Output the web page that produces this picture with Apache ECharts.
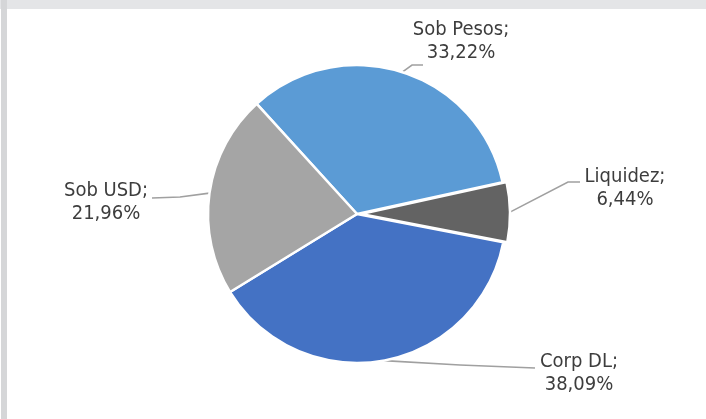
<!DOCTYPE html>
<html>
<head>
<meta charset="utf-8">
<script src="https://cdn.jsdelivr.net/npm/echarts@6/dist/echarts.min.js"></script>
<style>
  html, body { margin: 0; padding: 0; background: #ffffff; }
  #chart { width: 706px; height: 419px; }
</style>
</head>
<body>
<div id="chart"></div>
<script>
// ---- data ----
const categories = ['Sob Pesos', 'Liquidez', 'Corp DL', 'Sob USD'];
const values = [33.22, 6.44, 38.09, 21.96];
const colors = ['#5B9BD5', '#636363', '#4472C4', '#A5A5A5'];
const exploded = 'Liquidez';

// ---- label layout (positions only), by category ----
const labelLayoutCfg = {
  'Sob Pesos': { x: 461, y: 41,  bend: [412, 65],  end: [423, 65] },
  'Liquidez':  { x: 625, y: 188, bend: [568, 182], end: [580, 182] },
  'Corp DL':   { x: 579, y: 373, bend: [460, 365], end: [535, 368] },
  'Sob USD':   { x: 106, y: 202, bend: [180, 197], end: [152, 198] }
};

const fmt = v => v.toFixed(2).replace('.', ',') + '%';
const FONT = '"DejaVu Sans Condensed", "Liberation Sans Narrow", "DejaVu Sans", sans-serif';

const chart = echarts.init(document.getElementById('chart'), null, { renderer: 'canvas' });

function makeData(showExploded) {
  return categories.map((name, i) => {
    const visible = (name === exploded) === showExploded;
    return {
      name: name,
      value: values[i],
      itemStyle: visible ? { color: colors[i] } : { color: 'rgba(0,0,0,0)', borderColor: 'rgba(0,0,0,0)' },
      label: { show: visible },
      labelLine: { show: visible }
    };
  });
}

const baseSeries = {
  type: 'pie',
  radius: 149,
  startAngle: 132.3,
  clockwise: true,
  avoidLabelOverlap: false,
  emphasis: { disabled: true },
  itemStyle: { borderColor: '#ffffff', borderWidth: 2.5 },
  label: {
    position: 'outside',
    formatter: p => p.name + ';\n' + fmt(p.value),
    fontFamily: FONT,
    fontSize: 20,
    lineHeight: 23,
    color: '#3d3d3d',
    align: 'center'
  },
  labelLine: {
    length: 10,
    length2: 10,
    smooth: false,
    lineStyle: { color: '#a0a0a0', width: 1.6 }
  },
  labelLayout: function (params) {
    const name = categories[params.dataIndex];
    const c = labelLayoutCfg[name];
    const pts = params.labelLinePoints;
    const start = pts && pts[0] ? pts[0] : c.bend;
    return {
      x: c.x,
      y: c.y,
      align: 'center',
      verticalAlign: 'middle',
      labelLinePoints: [start, c.bend, c.end]
    };
  }
};

chart.setOption({
  backgroundColor: '#ffffff',
  animation: false,
  graphic: [
    { type: 'rect', shape: { x: 0, y: 0, width: 706, height: 9 }, style: { fill: '#e4e5e7' }, silent: true, z: -1 },
    { type: 'rect', shape: { x: 1, y: 0, width: 6, height: 419 }, style: { fill: '#d5d6d8' }, silent: true, z: -1 }
  ],
  series: [
    Object.assign({}, baseSeries, { center: [357, 214], data: makeData(false) }),
    Object.assign({}, baseSeries, { center: [361, 214], data: makeData(true) })
  ]
});
</script>
</body>
</html>
